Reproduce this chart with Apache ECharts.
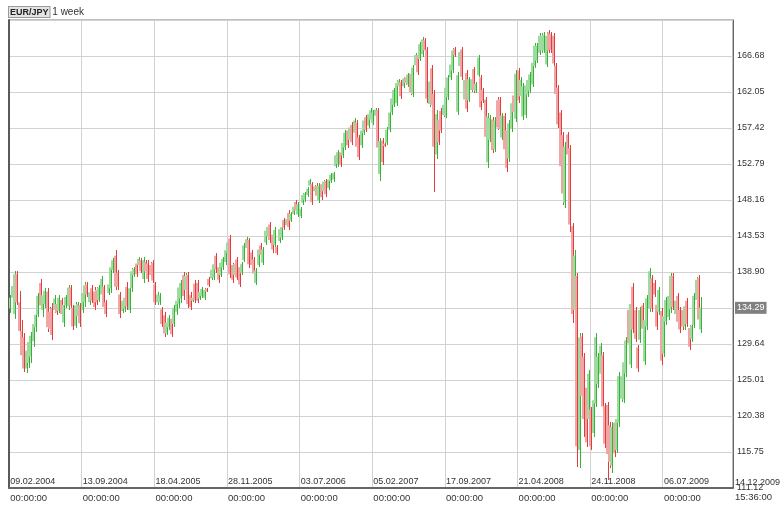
<!DOCTYPE html>
<html><head><meta charset="utf-8">
<script src="https://cdn.jsdelivr.net/npm/echarts@6/dist/echarts.min.js"></script>
<style>html,body{margin:0;padding:0;background:#fff}#c{width:780px;height:512px}</style>
</head><body><div id="c"></div>
<script>
// tick labels every 31 weekly bars
const tickLabels = ['09.02.2004','13.09.2004','18.04.2005','28.11.2005','03.07.2006','05.02.2007','17.09.2007','21.04.2008','24.11.2008','06.07.2009'];
const tickTimes = '00:00:00';
const lastStamp = '14.12.2009';
const lastTime = '15:36:00';
const BARS_PER_TICK = 31;
const TOTAL_SLOTS = 309;
const yMin = 111.12, yMax = 171.31, yStep = 4.63;

// weekly bars [open, high, low, close], one array per tick period
const p1 = [
[134.2,135.94,133.63,135.6],[135.6,137.61,134.01,137.1],[133.5,139.03,132.86,138.6],[138.6,139.03,134.66,135.0],
[135.0,136.46,130.80,131.3],[131.3,132.73,127.58,128.2],[130.5,131.05,126.04,126.5],[126.5,129.26,125.91,128.8],
[127.2,130.41,126.55,129.9],[128.0,131.18,127.19,130.7],[130.0,132.60,129.26,132.2],[131.8,133.76,131.18,133.4],
[133.4,136.20,133.11,135.8],[137.5,138.00,134.27,134.6],[134.0,136.33,133.11,135.9],[134.8,136.84,134.27,136.5],
[136.4,136.84,131.18,131.8],[133.8,134.40,131.05,131.6],[134.2,134.91,130.15,130.8],[134.0,135.94,133.63,135.5],
[134.8,135.04,133.37,133.7],[133.9,135.94,133.63,135.6],[135.3,135.56,133.11,133.5],[132.4,135.04,131.83,134.7],
[134.6,135.94,134.27,135.7],[134.5,137.23,134.01,136.9],[136.9,137.23,134.27,134.6],[134.3,134.66,131.44,131.9],
[132.0,135.04,131.70,134.6],[133.2,135.04,132.73,134.8],[134.6,134.91,131.83,132.3]];
const p2 = [
[134.0,136.58,133.63,136.2],[135.0,137.61,134.40,137.2],[137.3,137.61,135.69,136.0],[135.0,136.58,134.66,136.3],
[136.8,137.23,134.91,135.2],[136.4,136.97,134.01,134.4],[136.6,136.97,134.66,135.0],[135.3,137.23,135.04,136.9],
[136.0,138.38,135.56,138.0],[137.0,137.23,134.01,134.4],[135.0,135.30,133.11,133.5],[136.2,137.61,135.94,137.3],
[136.8,139.93,136.20,139.5],[139.2,140.70,138.77,140.4],[141.0,141.73,136.58,137.0],[138.8,139.16,136.58,137.0],
[136.0,136.33,132.98,133.5],[133.9,135.56,133.63,135.2],[134.2,135.94,133.76,135.6],[137.0,137.61,134.01,134.5],
[134.0,137.23,133.63,136.8],[136.8,139.41,136.33,139.0],[138.5,139.54,138.26,139.3],[140.0,140.44,138.26,138.6],
[139.8,140.83,139.54,140.6],[140.4,140.70,138.77,139.0],[138.0,140.83,137.48,140.4],[140.2,140.44,138.77,139.0],
[140.0,140.44,137.61,138.0],[139.8,140.19,138.26,138.5],[140.1,140.44,137.48,137.8]];
const p3 = [
[137.3,137.61,134.66,135.0],[135.0,136.33,134.66,136.0],[135.0,136.20,134.66,135.9],[134.1,134.40,131.83,132.2],
[133.3,133.76,130.54,131.0],[131.0,132.73,130.80,132.4],[131.8,133.37,131.44,133.0],[132.9,133.11,130.54,130.9],
[132.2,134.66,131.83,134.3],[133.8,135.56,133.37,135.2],[134.8,137.23,134.27,136.9],[135.5,137.87,134.91,137.5],
[138.5,138.90,135.30,135.8],[136.6,138.77,136.33,138.4],[138.5,138.90,134.27,134.8],[135.9,136.33,134.01,134.4],
[135.2,135.69,135.04,135.6],[137.4,137.87,134.91,135.3],[137.5,137.87,134.91,135.2],[135.5,136.58,135.30,136.3],
[135.8,136.97,135.56,136.7],[135.6,136.84,135.30,136.6],[136.7,136.84,136.33,136.4],[138.0,138.26,136.97,137.2],
[138.1,139.41,137.87,139.2],[138.2,140.19,137.87,139.9],[141.0,141.34,138.77,139.2],[139.5,139.80,137.48,137.9],
[138.5,140.44,138.26,140.1],[139.5,140.83,139.16,140.6],[140.2,141.98,139.80,141.7]];
const p4 = [
[141.4,143.01,141.08,142.7],[143.2,143.66,138.13,138.6],[139.8,140.06,137.48,137.9],[138.5,140.19,138.26,139.9],
[140.5,140.83,137.87,138.2],[139.5,139.80,136.97,137.3],[138.8,140.19,138.51,139.9],[140.4,142.63,140.19,142.3],
[142.0,143.40,141.73,143.1],[143.0,143.27,139.41,139.9],[141.4,141.73,139.41,139.8],[140.5,140.83,138.38,138.7],
[137.5,139.41,137.23,139.1],[139.8,142.11,139.54,141.8],[142.3,142.63,140.83,141.1],[140.1,142.11,139.80,141.8],
[142.7,144.56,142.37,144.2],[143.5,144.94,143.27,144.7],[145.0,145.33,142.63,143.0],[143.7,144.04,141.34,141.8],
[142.4,144.69,142.11,144.3],[142.1,142.37,141.08,141.3],[142.9,144.69,142.63,144.4],[143.3,144.94,143.01,144.7],
[145.6,145.84,144.30,144.6],[144.9,145.97,144.69,145.7],[146.5,146.87,144.30,144.7],[145.5,146.62,145.33,146.4],
[146.4,147.52,146.23,147.3],[147.9,148.16,146.49,146.8],[146.3,147.90,145.97,147.6]];
const p5 = [
[146.1,147.26,145.84,147.0],[147.8,149.06,147.52,148.8],[148.2,149.19,147.90,149.0],[148.8,149.83,148.55,149.6],
[150.0,150.86,149.83,150.7],[150.2,150.47,147.52,147.9],[149.3,150.09,149.06,149.9],[150.0,150.34,148.42,148.7],
[148.1,150.34,147.77,150.0],[150.2,150.47,148.16,148.5],[149.3,150.73,149.06,150.5],[150.6,150.86,148.55,148.9],
[149.7,150.99,149.45,150.8],[150.6,151.63,150.34,151.4],[150.8,151.76,150.47,151.6],[152.5,154.20,152.28,153.9],
[152.8,154.59,152.41,154.3],[154.3,154.59,152.41,152.7],[153.9,155.88,153.56,155.5],[154.9,157.16,154.59,156.8],
[157.1,157.42,154.85,155.2],[155.9,157.80,155.62,157.5],[157.8,158.19,155.23,155.6],[156.8,158.70,156.52,158.4],
[158.1,158.45,154.59,155.0],[156.2,156.52,153.30,153.7],[155.2,157.42,154.85,157.1],[156.8,158.70,156.52,158.4],
[158.8,159.09,156.90,157.2],[157.7,159.48,157.42,159.2],[158.5,159.99,158.19,159.7]];
const p6 = [
[158.1,159.73,157.80,159.4],[159.0,159.99,158.70,159.8],[159.7,159.99,154.33,154.9],[151.5,156.13,150.60,155.7],
[155.8,156.13,152.66,153.0],[155.4,155.49,154.98,155.1],[155.5,157.55,155.23,157.2],[157.2,159.73,156.90,159.4],
[159.4,161.53,159.09,161.2],[160.4,162.56,160.12,162.3],[160.6,163.59,160.25,163.2],[162.8,163.72,162.56,163.5],
[163.3,163.59,161.15,161.5],[162.8,163.98,162.56,163.8],[163.9,164.11,162.95,163.2],[163.0,164.49,162.69,164.3],
[164.4,164.62,161.66,162.0],[161.8,165.52,161.41,165.2],[165.5,167.07,165.26,166.8],[166.8,167.07,164.24,164.6],
[166.3,168.48,166.04,168.2],[166.9,169.12,166.55,168.8],[168.7,168.99,167.07,167.4],[167.5,167.84,160.63,161.2],
[160.5,163.85,160.12,163.4],[165.1,165.52,159.99,160.4],[161.8,162.31,149.19,155.0],[154.0,159.73,153.43,159.2],
[158.5,158.83,155.23,155.6],[159.6,159.99,156.77,157.1],[159.1,160.63,158.83,160.4]];
const p7 = [
[159.0,162.95,158.70,162.6],[161.4,164.24,161.02,163.9],[163.9,165.91,163.59,165.6],[164.8,167.71,164.49,167.4],
[167.6,167.84,166.55,166.8],[159.5,164.62,159.09,164.2],[165.4,167.45,165.14,167.2],[167.5,167.84,163.59,164.0],
[161.1,163.98,160.76,163.6],[164.5,164.88,159.48,159.9],[161.0,163.98,160.76,163.7],[162.3,163.98,162.05,163.7],
[165.0,165.26,161.92,162.3],[162.2,163.33,161.92,163.1],[164.2,166.81,163.98,166.5],[163.9,164.24,159.73,160.1],
[162.3,162.56,160.63,160.9],[161.1,161.41,155.88,156.3],[153.0,159.35,152.28,158.9],[155.9,159.09,155.62,158.7],
[158.5,158.83,154.20,154.6],[154.7,158.83,154.33,158.4],[161.0,161.41,157.16,157.5],[161.1,161.41,156.90,157.3],
[156.2,159.35,155.88,159.0],[159.0,159.35,154.33,154.7],[157.1,157.42,151.76,152.3],[153.5,158.45,153.05,158.0],
[157.3,161.02,156.90,160.6],[161.6,161.92,159.09,159.5],[158.6,164.88,158.19,164.4]];
const p8 = [
[164.8,165.14,160.63,161.0],[161.5,163.98,161.28,163.6],[158.9,163.21,158.45,162.8],[159.1,163.21,158.70,162.9],
[161.7,163.98,161.41,163.6],[162.2,164.62,161.92,164.3],[163.0,166.17,162.69,165.8],[165.4,168.35,165.14,168.0],
[166.1,168.35,165.78,168.0],[167.1,169.64,166.81,169.3],[167.4,169.64,167.07,169.3],[167.4,169.77,167.07,169.4],
[165.6,169.77,165.26,169.3],[169.7,170.02,167.07,167.4],[169.5,169.77,167.07,167.5],[169.3,169.64,165.26,165.7],
[165.4,165.78,161.41,161.8],[162.6,162.95,157.42,157.9],[159.4,159.73,150.47,152.5],[156.5,156.90,147.52,149.0],
[147.8,155.62,147.13,155.0],[156.6,156.90,153.56,154.0],[154.8,155.23,144.04,145.0],[144.8,145.20,132.34,133.5],
[134.0,141.73,133.37,141.0],[138.4,138.77,113.82,116.5],[116.0,131.05,113.69,130.5],[130.6,131.05,122.44,123.0],
[128.0,128.48,117.68,120.0],[124.0,124.37,116.39,117.0],[120.0,126.29,119.48,125.8]];
const p9 = [
[121.2,121.54,116.00,116.5],[118.2,122.82,117.68,122.4],[122.0,131.05,121.54,130.5],[124.5,128.48,123.98,128.0],
[125.8,129.77,125.39,129.4],[128.2,128.61,121.15,121.6],[121.7,122.05,116.27,116.8],[121.8,122.18,112.14,115.5],
[119.2,119.61,113.69,114.5],[114.0,119.61,113.05,119.0],[119.5,119.86,115.10,115.6],[116.0,120.51,115.62,120.0],
[119.5,126.04,118.96,125.5],[122.6,125.91,122.18,125.5],[122.5,127.84,122.05,127.3],[125.9,130.54,125.39,130.1],
[134.0,134.40,129.26,129.7],[127.0,135.30,126.55,134.8],[137.0,137.48,131.05,131.5],[134.0,134.40,129.90,130.3],
[129.2,129.51,126.04,126.5],[130.2,134.40,129.77,134.0],[134.6,134.91,131.18,131.6],[127.4,133.11,126.94,132.7],
[131.9,135.94,131.44,135.5],[134.2,139.41,133.76,139.0],[138.1,138.51,133.76,134.2],[137.5,137.87,135.69,136.0],
[134.7,135.04,131.44,131.9],[133.8,136.97,133.37,136.6],[133.9,134.27,126.94,127.5]];
const p10 = [
[128.4,133.63,127.97,133.2],[132.5,135.69,132.08,135.3],[133.1,136.20,132.73,135.8],[134.1,138.77,133.63,138.4],
[138.4,138.77,134.01,134.4],[133.5,135.56,133.11,135.2],[135.8,136.20,132.08,132.5],[134.0,134.40,131.05,131.5],
[134.0,134.40,131.44,131.9],[131.9,134.91,131.44,134.5],[135.2,135.56,131.83,132.2],[131.7,132.08,128.87,129.3],
[130.3,132.34,129.90,132.0],[132.1,136.20,131.70,135.8],[135.3,138.26,134.91,137.9],[138.1,138.51,132.34,132.8],
[131.5,135.69,131.05,134.29]];

const bars = [].concat(p1, p2, p3, p4, p5, p6, p7, p8, p9, p10);
const lastIndex = bars.length - 1;
const lastClose = bars[lastIndex][3];
const categories = [];
for (let i = 0; i < TOTAL_SLOTS; i++) categories.push(String(i));
const seriesData = bars.map((b, i) => [i, b[0], b[1], b[2], b[3]]);

const UP_BODY = '#9edb9e', UP_LINE = '#36b236';
const DN_BODY = '#f3a4a4', DN_LINE = '#e23c3c';
const FONT = 'Liberation Sans, Arial, sans-serif';

const chart = echarts.init(document.getElementById('c'), null, {renderer: 'canvas'});
chart.setOption({
  animation: false,
  backgroundColor: '#ffffff',
  title: {
    text: '{b|EUR/JPY} 1 week', left: 9, top: 7, padding: 0,
    textStyle: {fontSize: 10, fontWeight: 'normal', color: '#333', fontFamily: FONT,
      rich: {b: {fontSize: 9, fontWeight: 'bold', color: '#222', fontFamily: FONT, backgroundColor: '#e4e4e4',
        borderColor: '#9a9a9a', borderWidth: 1, padding: [1, 1, 0, 1]}}}
  },
  grid: {left: 9, right: 47, top: 20, bottom: 24, show: true, borderColor: '#7a7a7a', borderWidth: 1},
  xAxis: [{
    type: 'category', data: categories, position: 'bottom', boundaryGap: true,
    axisLine: {show: true, lineStyle: {color: '#666', width: 2}},
    axisTick: {show: false},
    axisLabel: {inside: true, interval: BARS_PER_TICK - 1, align: 'left', margin: 2, fontSize: 9, color: '#333', fontFamily: FONT,
      formatter: (v, idx) => (idx % BARS_PER_TICK === 0 && tickLabels[idx / BARS_PER_TICK]) || ''},
    splitLine: {show: true, interval: BARS_PER_TICK - 1, lineStyle: {color: '#d2d2d2', width: 1}}
  }, {
    type: 'category', data: categories, position: 'bottom', boundaryGap: true, gridIndex: 0,
    axisLine: {show: false}, axisTick: {show: false}, splitLine: {show: false},
    axisLabel: {interval: BARS_PER_TICK - 1, align: 'left', margin: 5, fontSize: 9.5, color: '#333', fontFamily: FONT,
      formatter: (v, idx) => (idx % BARS_PER_TICK === 0 && tickLabels[idx / BARS_PER_TICK]) ? tickTimes : ''}
  }],
  yAxis: [{
    type: 'value', position: 'right', min: yMin, max: yMax, interval: yStep, scale: true,
    axisLine: {show: true, lineStyle: {color: '#666', width: 1}},
    axisTick: {show: false},
    axisLabel: {margin: 4, fontSize: 9, color: '#333', fontFamily: FONT, padding: [0, 0, 5, 0],
      formatter: v => {
        if (Math.abs(v - yMax) < 0.01) return '';
        if (Math.abs(v - lastClose) < 1) return '';
        return v.toFixed(2);
      }},
    splitLine: {show: true, lineStyle: {color: '#d2d2d2', width: 1}}
  }, {
    type: 'value', position: 'left', min: yMin, max: yMax, interval: yStep,
    axisLine: {show: true, lineStyle: {color: '#5a5a5a', width: 2}},
    axisTick: {show: false}, axisLabel: {show: false}, splitLine: {show: false}
  }],
  graphic: [
    {type: 'text', left: 735, top: 478, style: {text: lastStamp, fontSize: 9, fill: '#333', fontFamily: FONT}},
    {type: 'text', left: 735, top: 492, style: {text: lastTime, fontSize: 9.5, fill: '#333', fontFamily: FONT}}
  ],
  series: [{
    type: 'custom', xAxisIndex: 0, yAxisIndex: 0, clip: true,
    encode: {x: 0, y: [1, 2, 3, 4]},
    data: seriesData,
    renderItem: (params, api) => {
      const i = api.value(0);
      const o = api.value(1), h = api.value(2), l = api.value(3), c = api.value(4);
      const pO = api.coord([i, o]), pC = api.coord([i, c]);
      const pH = api.coord([i, h]), pL = api.coord([i, l]);
      const up = c >= o;
      const x = Math.round(pO[0] - 1);
      const top = Math.min(pO[1], pC[1]), bot = Math.max(pO[1], pC[1]);
      return {type: 'group', children: [
        {type: 'rect', shape: {x: x - 1, y: top, width: 2, height: Math.max(1, bot - top)}, style: {fill: up ? UP_BODY : DN_BODY}},
        {type: 'line', shape: {x1: x + 1.5, y1: pH[1], x2: x + 1.5, y2: pL[1]}, style: {stroke: up ? UP_LINE : DN_LINE, lineWidth: 1}}
      ]};
    }
  }, {
    type: 'line', xAxisIndex: 0, yAxisIndex: 0, clip: false, silent: true,
    data: [[lastIndex, lastClose]], showSymbol: false, symbolSize: 0,
    lineStyle: {width: 0, color: 'rgba(0,0,0,0)'}, z: 10,
    markLine: {
      silent: true, symbol: ['none', 'none'], animation: false, precision: 2,
      lineStyle: {width: 0, color: 'rgba(0,0,0,0)', type: 'solid'},
      label: {show: true, position: 'end', distance: 2, formatter: p => Number(p.value).toFixed(2),
        backgroundColor: '#808080', color: '#ffffff', fontSize: 9, fontFamily: FONT, padding: [2, 2, 1, 2], opacity: 1},
      data: [{yAxis: lastClose}]
    }
  }]
});
</script></body></html>
